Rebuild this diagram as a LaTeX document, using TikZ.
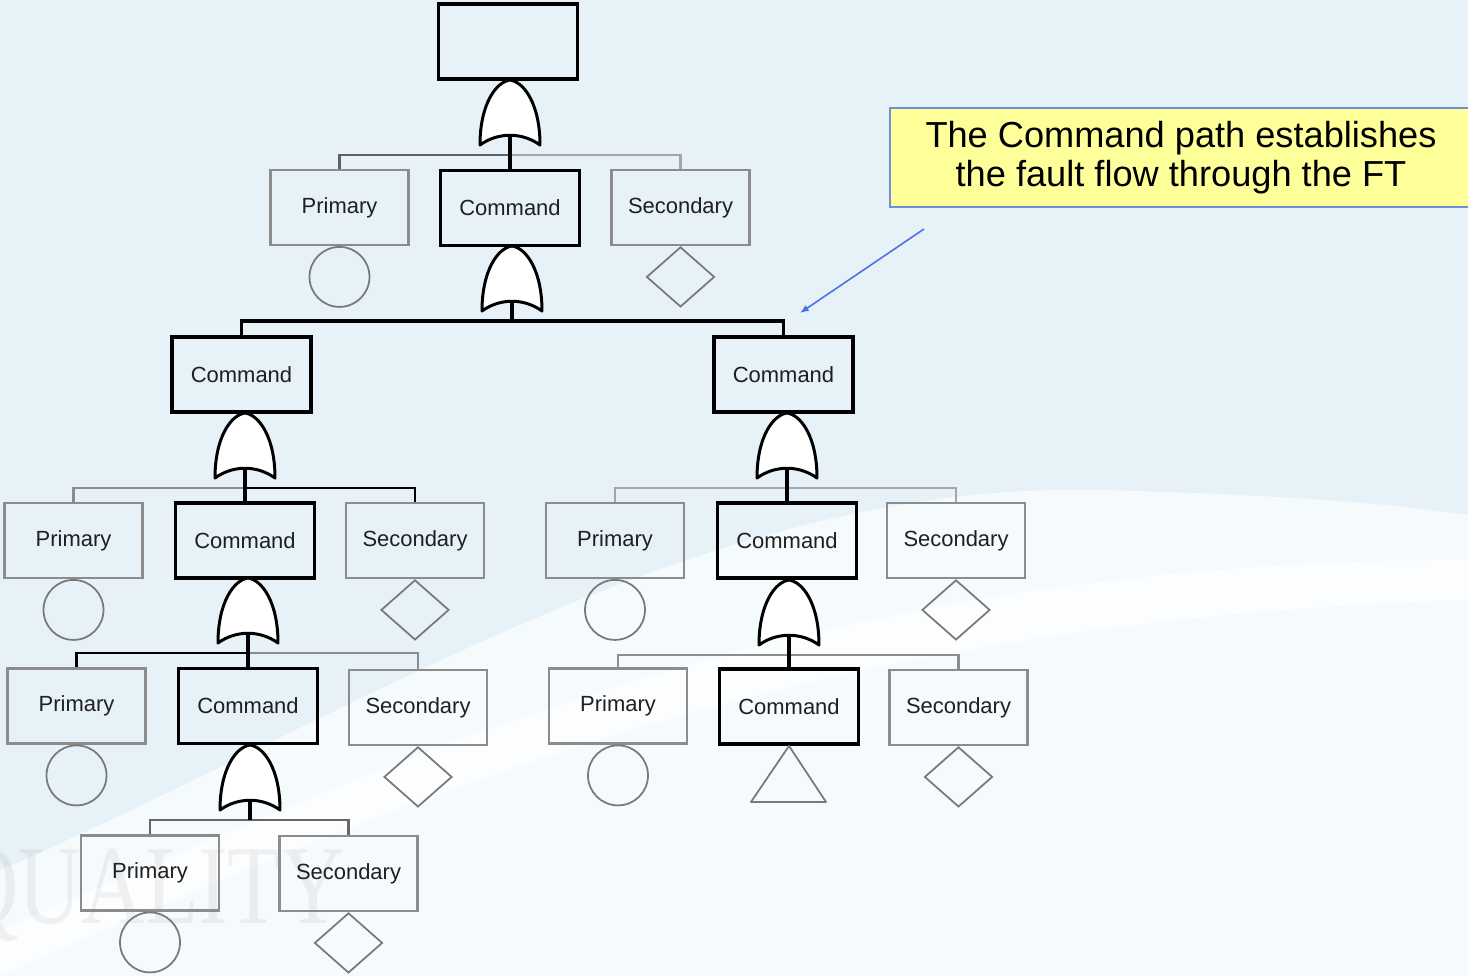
\documentclass[tikz,border=0pt]{standalone}
\usepackage{fontspec}
\setmainfont{Liberation Sans}
\newfontfamily\markfont{Liberation Serif}
\usetikzlibrary{arrows.meta,positioning,shapes.geometric}

\definecolor{bgblue}{HTML}{E6F1F8}
\definecolor{bgwhite}{HTML}{F5FAFD}
\definecolor{notefill}{HTML}{FFFF99}
\definecolor{noteedge}{HTML}{6E8ED6}
\definecolor{pointer}{HTML}{4A72E6}
\definecolor{linkgray}{HTML}{8C8C8C}

\tikzset{
  orgate/.pic={
    \draw[fill=white,line width=1.7pt,line join=round]
      (0,0) .. controls (14,2) and (30,24) .. (30,65)
      .. controls (12,52) and (-12,52) .. (-30,65)
      .. controls (-30,24) and (-14,2) .. (0,0) -- cycle;
    \coordinate (-base) at (0,55);
    \coordinate (-bar) at (0,75);
  }
}

\begin{document}
\begin{tikzpicture}[x=0.02cm,y=-0.02cm,
  every node/.style={inner sep=0pt,text=black!88,font=\fontsize{12.5}{15}\selectfont},
  event/.style={draw=linkgray,line width=1.2pt,minimum width=2.76cm,minimum height=1.5cm},
  command/.style={draw=black,line width=2.2pt,minimum width=2.78cm,minimum height=1.5cm},
  basic/.style={circle,draw=gray!95!black,line width=1pt,minimum size=1.2cm},
  undeveloped/.style={diamond,draw=gray!95!black,line width=1pt,minimum width=1.36cm,minimum height=1.2cm},
  cmdlink/.style={draw=black,line width=2.2pt},
  sidelink/.style={draw=linkgray,line width=1.3pt},
  note/.style={draw=noteedge,line width=1.6pt,fill=notefill,minimum width=11.64cm,minimum height=1.98cm,
    align=center,text=black,font=\fontsize{20.6}{22.4}\selectfont},
  pointer/.style={draw=pointer,line width=0.9pt,-{Latex[length=5pt,width=4pt]}}]

\useasboundingbox (0,0) rectangle (1468,976);
\fill[bgblue] (0,0) rectangle (1468,976);
\fill[bgwhite] (0,870) .. controls (350,720) and (700,480) .. (1100,490)
  .. controls (1300,495) and (1400,505) .. (1468,515) -- (1468,976) -- (0,976) -- cycle;
\fill[white,opacity=0.6] (0,930) .. controls (400,760) and (800,560) .. (1468,560)
  -- (1468,600) .. controls (800,620) and (400,800) .. (0,976) -- cycle;
\node[text=gray,opacity=0.1,font=\markfont\fontsize{64}{64}\selectfont] (mark) at (150,895)
  {\scalebox{0.78}[1]{QUALITY}};

% tree
\node[command] (top) at (508,41.5) {};
\node[event] (P1) at (339.5,207.5) {Primary};
\node[command] (C1) at (510,208) {Command};
\node[event] (S1) at (680.5,207.5) {Secondary};

\node[command] (CL) at (241.5,374.5) {Command};
\node[command] (CR) at (783.5,374.5) {Command};

\node[event] (PL3) at (73.5,540.5) {Primary};
\node[command] (CL3) at (245,540.5) {Command};
\node[event] (SL3) at (415,540.5) {Secondary};
\node[event] (PR3) at (615,540.5) {Primary};
\node[command] (CR3) at (787,540.5) {Command};
\node[event] (SR3) at (956,540.5) {Secondary};

\node[event] (PL4) at (76.5,706) {Primary};
\node[command] (CL4) at (248,706) {Command};
\node[event] (SL4) at (418,707.5) {Secondary};
\node[event] (PR4) at (618,706) {Primary};
\node[command] (CR4) at (789,706.5) {Command};
\node[event] (SR4) at (958.5,707.5) {Secondary};

\node[event] (PL5) at (150,873) {Primary};
\node[event] (SL5) at (348.5,873.5) {Secondary};

\foreach \n in {P1,PL3,PR3,PL4,PR4,PL5}
  \node[basic,below=0pt of \n] (\n-b) {};
\foreach \n in {S1,SL3,SR3,SL4,SR4,SL5}
  \node[undeveloped,below=0pt of \n] (\n-u) {};
\draw[draw=gray!95!black,line width=1pt,line join=round]
  (CR4.south) -- ++(37,56) -- ++(-75,0) -- cycle;

\pic (g1) at (510,80) {orgate};
\pic (g2) at (512,246) {orgate};
\pic (gL3) at (245,413) {orgate};
\pic (gR3) at (787,413) {orgate};
\pic (gL4) at (248,578) {orgate};
\pic (gR4) at (789,580) {orgate};
\pic (gL5) at (250,745) {orgate};

\draw[sidelink,draw=gray!75!black] (g1-bar) -| (P1.north);
\draw[sidelink,draw=gray!70] (g1-bar) -| (S1.north);
\draw[cmdlink] (g1-base) -- (g1-bar) -- (C1.north);

\draw[cmdlink] (g2-base) -- (g2-bar);
\draw[cmdlink] (CL.north) |- (g2-bar) -| (CR.north);

\draw[sidelink] (gL3-bar) -| (PL3.north);
\draw[sidelink,draw=black] (gL3-bar) -| (SL3.north);
\draw[cmdlink] (gL3-base) -- (gL3-bar) -- (CL3.north);

\draw[sidelink,draw=gray!70] (gR3-bar) -| (PR3.north);
\draw[sidelink,draw=gray!70] (gR3-bar) -| (SR3.north);
\draw[cmdlink] (gR3-base) -- (gR3-bar) -- (CR3.north);

\draw[sidelink,draw=black] (gL4-bar) -| (PL4.north);
\draw[sidelink] (gL4-bar) -| (SL4.north);
\draw[cmdlink] (gL4-base) -- (gL4-bar) -- (CL4.north);

\draw[sidelink] (gR4-bar) -| (PR4.north);
\draw[sidelink] (gR4-bar) -| (SR4.north);
\draw[cmdlink] (gR4-base) -- (gR4-bar) -- (CR4.north);

\draw[sidelink,draw=gray!80!black] (gL5-bar) -| (PL5.north);
\draw[sidelink,draw=gray!80!black] (gL5-bar) -| (SL5.north);
\draw[cmdlink] (gL5-base) -- (gL5-bar);

% callout
\node[note] (note) at (1181,157.5) {The Command path establishes\\the fault flow through the FT};
\coordinate (ptr0) at (924,229);
\coordinate (ptr1) at (800,313);
\draw[pointer] (ptr0) -- (ptr1);
\end{tikzpicture}
\end{document}
